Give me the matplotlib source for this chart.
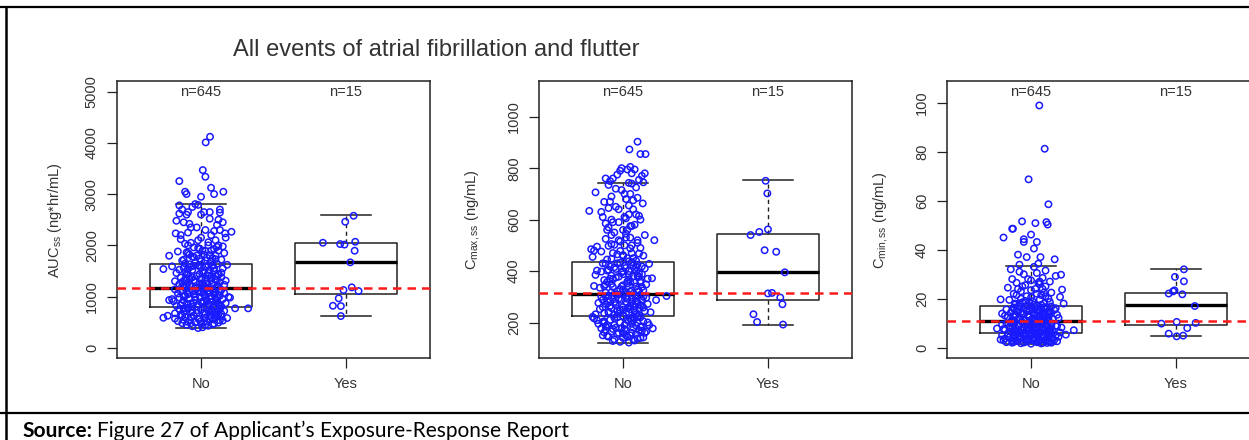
import matplotlib
matplotlib.use("Agg")
import matplotlib.pyplot as plt
from matplotlib.lines import Line2D

plt.rcParams['font.family'] = ['Liberation Sans', 'DejaVu Sans']
plt.rcParams['mathtext.fontset'] = 'custom'
plt.rcParams['mathtext.rm'] = 'Liberation Sans'
plt.rcParams['mathtext.it'] = 'Liberation Sans:italic'
plt.rcParams['mathtext.bf'] = 'Liberation Sans:bold'

W, H = 1249, 440

groups = ['No', 'Yes']
counts = ['n=645', 'n=15']
title = 'All events of atrial fibrillation and flutter'

# ---- AUCss ----
auc_no_y = [385, 400, 420, 430, 450, 460, 470, 480, 490, 500, 510, 520, 530, 540, 550, 560, 570, 580, 586, 590,
            600, 610, 625, 630, 640, 650, 660, 672, 680, 690, 700, 710, 720, 730, 740, 750, 760, 770, 770, 780, 790,
            800, 810, 820, 830, 840, 850, 860, 870, 880, 890, 900, 910, 920, 932, 940, 950, 960, 970, 980, 990,
            1000, 1010, 1020, 1030, 1040, 1050, 1060, 1070, 1080, 1090, 1100, 1110, 1120, 1130, 1140, 1150, 1155, 1100, 950, 980,
            1170, 1180, 1190, 1200, 1210, 1220, 1230, 1240, 1250, 1260, 1270, 1280, 1290, 1300, 1310, 1320, 1330, 1340, 1350, 1360,
            1370, 1380, 1400, 1410, 1430, 1440, 1460, 1480, 1500, 1520, 1537, 1550, 1560, 1580, 1590, 1600, 1610, 1620, 1630, 1640,
            1660, 1680, 1700, 1720, 1740, 1760, 1797, 1800, 1820, 1850, 1880, 1900, 1930, 1960, 2000, 2030, 2060, 2100, 2150, 2200,
            2234, 2234, 2265, 2300, 2350, 2400, 2450, 2520, 2600, 2650, 2700, 2750, 2806, 2949, 3002, 3047, 3002, 3047, 3125, 3255,
            3340, 3470, 4011, 4121,
            520, 560, 600, 640, 680, 720, 760, 800, 840, 880, 920, 960, 1000, 1040, 1080, 1120, 1160, 1200, 1240, 1280,
            1320, 1360, 1400, 1440, 1480, 1520, 1560, 1600, 1700, 1800, 1900, 2000, 450, 480, 700, 880, 1020, 1180, 1340, 1460,
            2780, 2700, 2650, 2620, 2790, 2650, 2640, 2600, 2500, 2450, 2480, 2420,
            1750, 1780, 1820, 1860, 1900, 1950, 2000, 2050, 2100, 2150, 2200, 2250, 2300, 2350, 1720, 1980, 2120, 2280,
            470, 505, 535, 565, 595, 625, 655, 685, 715, 745, 775, 805, 835, 865, 895, 925, 955, 985, 1015, 1045,
            1075, 1105, 1135, 1165, 1195, 1225, 1255, 1285, 1315, 1345, 1375, 1405, 1435, 1465, 1495, 1525, 1555, 1585, 1615, 1645,
            1690, 1730, 1770, 1810, 1850, 1890, 1930, 1970, 545, 655, 765, 875, 985, 1095, 1205, 1315, 1425, 1535, 610, 830]
auc_no_dx = [-0.02, 0.01, -0.06, 0.05, -0.10, 0.08, 0.00, -0.13, 0.12, -0.04, 0.04, -0.16, 0.15, -0.08, 0.09, -0.01, -0.18, 0.18, -0.26, 0.03,
             -0.11, 0.11, -0.23, -0.05, 0.06, -0.14, 0.14, -0.18, 0.02, -0.07, 0.10, -0.12, 0.16, -0.03, 0.07, -0.15, 0.13, 0.235, 0.325, -0.09, 0.04,
             -0.06, 0.09, -0.17, 0.13, -0.02, 0.05, -0.10, 0.17, -0.13, 0.00, 0.08, -0.19, 0.11, -0.22, -0.04, 0.15, -0.08, 0.03, -0.15, 0.19,
             -0.01, 0.07, -0.11, 0.12, -0.05, 0.02, -0.16, 0.16, -0.08, 0.09, -0.02, 0.05, -0.13, 0.14, -0.18, 0.01, 0.10, -0.10, -0.20, 0.20,
             -0.03, 0.06, -0.12, 0.11, -0.07, 0.02, 0.16, -0.15, 0.08, -0.01, -0.09, 0.13, 0.04, -0.18, 0.17, -0.05, 0.10, -0.11, 0.00, 0.07,
             -0.14, 0.14, -0.03, 0.05, -0.09, 0.12, -0.17, 0.02, 0.09, -0.06, -0.26, 0.15, -0.12, 0.03, -0.20, 0.08, -0.02, 0.18, -0.08, 0.11,
             -0.04, 0.07, -0.13, 0.14, -0.01, 0.04, -0.22, 0.10, -0.08, 0.16, -0.16, 0.01, 0.09, -0.05, 0.12, -0.11, 0.05, -0.02, 0.17, -0.14,
             -0.175, 0.166, 0.21, 0.03, -0.07, 0.11, -0.12, 0.06, -0.10, 0.02, 0.13, -0.06, -0.04, 0.00, -0.10, -0.11, 0.09, 0.154, 0.069, -0.15,
             0.03, 0.012, 0.032, 0.062,
             0.00, 0.06, -0.07, 0.10, -0.03, 0.05, -0.09, 0.02, 0.12, -0.05, 0.04, 0.07, -0.12, 0.09, 0.00, -0.06, 0.04, -0.10, 0.01, -0.04,
             0.07, -0.08, 0.10, -0.01, -0.11, 0.06, 0.00, -0.05, 0.03, -0.03, 0.07, -0.09, 0.03, -0.07, 0.08, 0.11, 0.03, -0.01, 0.03, 0.05,
             -0.15, -0.13, -0.09, -0.15, -0.02, 0.06, 0.13, 0.00, 0.12, 0.15, -0.17, -0.08,
             0.08, -0.06, 0.02, -0.10, 0.12, -0.02, 0.05, -0.07, 0.10, 0.00, 0.07, -0.09, 0.13, -0.03, -0.12, 0.15, -0.14, 0.09,
             0.09, -0.09, 0.13, -0.02, 0.07, -0.13, 0.03, 0.11, -0.06, 0.00, -0.11, 0.14, 0.06, -0.07, 0.02, -0.12, 0.10, -0.04, 0.13, -0.09,
             0.05, -0.14, 0.08, -0.03, 0.12, -0.08, 0.04, -0.13, 0.11, 0.00, -0.06, 0.07, -0.10, 0.14, 0.01, -0.15, 0.09, -0.07, 0.05, -0.11,
             0.00, 0.10, -0.05, 0.06, -0.09, 0.03, -0.01, 0.11, -0.12, 0.12, -0.12, 0.01, 0.11, 0.13, -0.13, -0.10, 0.12, -0.09, 0.14, -0.14]
auc_yes_y = [2578, 2461, 2051, 2025, 2015, 2070, 1895, 1668, 1180, 1107, 1127, 965, 820, 814, 619]
auc_yes_dx = [0.053, -0.005, -0.159, -0.04, -0.01, 0.064, 0.06, 0.03, 0.04, 0.087, -0.017, -0.05, -0.09, -0.035, -0.035]
# whisker low, q1, median, q3, whisker high
auc_box_no = [380, 800, 1160, 1635, 2806]
auc_box_yes = [619, 1043, 1668, 2039, 2586]
auc_ref = 1160

# ---- Cmax,ss ----
cmax_no_y = [122, 125, 130, 135, 140, 140, 145, 150, 150, 155, 160, 160, 165, 170, 170, 177, 177, 180, 180, 185,
             190, 190, 195, 195, 200, 200, 205, 209, 210, 210, 215, 216, 220, 220, 222, 225, 200, 185, 165, 150,
             135, 175, 205, 215, 190,
             230, 232, 236, 240, 244, 248, 252, 256, 260, 264, 268, 272, 276, 280, 284, 287, 289, 292, 296, 300,
             303, 304, 306, 310, 232, 240, 248, 256, 264, 272, 280, 288, 296, 304, 236, 244, 252, 260, 268, 276,
             284, 292, 300, 308, 312,
             316, 320, 325, 330, 335, 340, 345, 350, 355, 360, 365, 370, 375, 380, 385, 390, 395, 400, 405, 410,
             415, 420, 425, 430, 435, 318, 328, 338, 348, 358, 368, 378, 388, 398, 408, 418, 428, 342, 372, 402,
             322, 352, 382, 412, 432,
             440, 445, 450, 455, 460, 465, 470, 476, 480, 485, 490, 495, 500, 505, 510, 515, 520, 525, 530, 540,
             550, 560, 570, 580, 590, 600, 610, 620, 630, 634, 640, 650, 663, 669, 680, 690, 700, 706, 715, 725,
             735, 743, 745, 750, 755, 760, 770, 775, 780, 790, 795, 800, 855, 855, 873, 903,
             560, 575, 590, 605, 620, 640, 655, 670, 685, 700, 720, 740, 760, 780, 795, 805, 585, 615, 645, 675,
             145, 160, 175, 190, 205, 220, 235, 250, 265, 280, 295, 310, 325, 340, 355, 370, 385, 400, 415, 430,
             450, 470, 500, 520, 545, 575, 600, 560, 610, 170,
             128, 138, 148, 158, 168, 178, 188, 198, 208, 218, 228, 238, 248, 258, 268, 278, 288, 298, 308, 318,
             328, 338, 348, 358, 368, 378, 388, 398, 408, 418, 428, 438, 448, 458, 468, 478, 488, 498, 520, 540,
             142, 162, 182, 202, 222, 242, 262, 282, 302, 322, 342, 362, 382, 402, 422, 462, 502, 530, 155, 255]
cmax_no_dx = [0.04, -0.02, 0.08, -0.06, 0.00, 0.12, -0.10, 0.05, -0.14, 0.09, -0.03, 0.15, -0.08, 0.02, 0.11, 0.205, -0.15, -0.05, 0.07, 0.13,
              -0.11, 0.01, 0.06, -0.17, 0.10, -0.02, 0.14, -0.18, 0.03, -0.09, 0.08, -0.20, -0.04, 0.12, -0.21, 0.00, 0.17, -0.12, 0.16, 0.02,
              0.07, -0.07, -0.13, 0.05, 0.18,
              -0.06, 0.09, -0.13, 0.04, 0.15, -0.02, -0.16, 0.11, 0.00, -0.09, 0.07, 0.17, -0.05, 0.02, -0.11, 0.228, 0.13, -0.03, 0.06, -0.15,
              0.30, 0.10, -0.07, 0.01, -0.19, 0.19, 0.08, -0.08, 0.13, -0.12, 0.06, -0.01, 0.16, -0.10, 0.02, -0.04, 0.05, -0.14, 0.12, -0.17,
              0.09, 0.03, 0.14, -0.04, 0.07,
              -0.12, 0.05, 0.14, -0.02, -0.16, 0.09, 0.00, -0.08, 0.12, 0.03, -0.13, 0.17, -0.05, 0.07, -0.19, 0.11, -0.01, 0.04, -0.10, 0.15,
              -0.06, 0.01, 0.10, -0.14, 0.06, 0.02, 0.10, -0.07, 0.16, -0.11, 0.04, -0.03, 0.13, -0.15, 0.08, -0.09, 0.18, -0.20, 0.20, -0.18,
              -0.04, 0.03, -0.08, 0.02, -0.02,
              0.09, -0.11, 0.03, -0.21, 0.14, -0.04, 0.06, -0.15, -0.20, -0.22, 0.12, -0.18, 0.01, -0.08, 0.10, -0.02, 0.216, -0.12, 0.05, 0.15,
              -0.06, 0.03, -0.10, 0.08, -0.03, 0.12, -0.14, 0.04, -0.15, -0.233, 0.07, -0.05, 0.136, -0.13, 0.02, -0.08, 0.05, -0.19, -0.01, 0.09,
              -0.10, 0.04, 0.14, -0.09, 0.11, -0.07, 0.13, -0.04, 0.06, -0.02, 0.03, -0.01, 0.12, 0.155, 0.044, 0.10,
              0.00, 0.05, -0.07, 0.02, 0.09, -0.03, 0.04, -0.09, 0.10, 0.01, -0.05, 0.06, -0.12, 0.15, 0.08, 0.05, -0.12, 0.11, -0.10, 0.07,
              0.03, 0.06, 0.01, -0.06, 0.04, 0.07, -0.03, 0.00, 0.05, -0.06, 0.09, -0.05, 0.06, -0.01, 0.08, -0.09, 0.04, 0.00, 0.09, -0.04,
              0.07, -0.07, 0.06, -0.03, 0.02, 0.06, -0.08, -0.11, 0.01, -0.12,
              -0.07, 0.10, -0.11, 0.00, 0.13, -0.01, 0.09, -0.13, 0.06, -0.06, 0.11, -0.10, -0.02, 0.14, -0.05, 0.10, -0.14, 0.02, 0.12, -0.08,
              0.00, 0.13, -0.12, 0.05, -0.07, 0.11, 0.00, 0.09, -0.05, 0.13, -0.12, 0.04, -0.08, 0.00, 0.11, -0.02, 0.05, -0.10, 0.10, -0.08,
              0.14, -0.13, 0.12, -0.14, 0.10, -0.10, 0.08, -0.09, -0.12, 0.11, -0.13, 0.12, 0.10, -0.11, 0.07, 0.00, -0.06, 0.02, -0.04, 0.03]
cmax_yes_y = [751, 702, 540, 552, 562, 481, 475, 395, 313, 315, 297, 271, 232, 202, 192]
cmax_yes_dx = [-0.016, -0.004, -0.12, -0.06, 0.0, -0.023, 0.057, 0.116, 0.0, 0.028, 0.085, 0.1, -0.10, -0.075, 0.104]
cmax_box_no = [122, 224, 312, 436, 743]
cmax_box_yes = [192, 287, 395, 546, 754]
cmax_ref = 313

# ---- Cmin,ss ----
cmin_no_y = [1.6, 1.8, 2.0, 2.0, 2.2, 2.4, 2.5, 2.7, 2.8, 3.0, 3.0, 3.2, 3.3, 3.4, 3.5, 3.6, 3.8, 4.0, 4.0, 4.2,
             4.3, 4.5, 4.6, 4.8, 5.0, 5.0, 5.2, 5.3, 5.4, 5.5, 5.6, 5.8, 5.9, 6.0, 2.2, 2.6, 3.1, 3.7, 4.4, 4.9,
             5.5, 2.9, 3.9, 1.9, 2.3,
             6.1, 6.3, 6.5, 6.6, 6.8, 7.0, 7.1, 7.2, 7.3, 7.5, 7.7, 7.8, 7.9, 8.1, 8.3, 8.4, 8.6, 8.8, 8.9, 9.1,
             9.3, 9.4, 9.6, 9.8, 9.9, 10.1, 10.3, 10.4, 10.6, 10.8, 6.4, 6.9, 7.4, 7.9, 8.4, 8.9, 9.4, 9.9, 10.4, 10.9,
             6.2, 7.6, 8.2, 9.0, 10.0,
             11.0, 11.2, 11.4, 11.6, 11.8, 12.0, 12.2, 12.4, 12.6, 12.8, 13.0, 13.2, 13.4, 13.6, 13.9, 14.0, 14.2, 14.4, 14.6, 14.8,
             15.0, 15.2, 15.4, 15.6, 15.8, 16.0, 16.2, 16.4, 16.6, 16.8, 11.5, 12.5, 13.5, 14.5, 15.5, 16.5, 12.1, 13.1, 14.1, 15.1,
             16.1, 11.3, 12.9, 14.9, 16.9,
             17.2, 17.6, 18.0, 18.0, 18.5, 19.0, 19.5, 19.7, 20.0, 20.7, 21.0, 21.5, 22.0, 22.5, 23.0, 23.7, 24.0, 24.5, 25.0, 25.5,
             26.0, 26.5, 27.0, 27.5, 28.0, 28.5, 29.3, 29.8, 30.0, 30.5, 31.0, 31.5, 32.0, 33.0, 33.9, 34.3, 36.1, 37.0, 37.0, 38.0,
             40.5, 43.2, 43.2, 44.3, 45.0, 46.2, 48.6, 48.6, 50.3, 50.9, 51.3, 51.6, 58.6, 68.8, 81.3, 99.0,
             2.5, 3.5, 4.5, 5.5, 6.5, 7.5, 8.5, 9.5, 10.5, 11.5, 12.5, 13.5, 14.5, 15.5, 16.5, 17.5, 18.5, 20.0, 22.0, 24.0,
             3.0, 5.0, 7.0, 9.0, 11.0, 13.0, 15.0, 4.0, 6.0, 8.0,
             1.7, 2.1, 2.6, 3.1, 3.6, 4.1, 4.6, 5.1, 5.6, 6.1, 6.6, 7.1, 7.6, 8.1, 8.6, 9.1, 9.6, 10.1, 10.6, 11.1,
             11.6, 12.1, 12.6, 13.1, 13.6, 14.1, 14.6, 15.1, 15.6, 16.1, 16.6, 17.1, 17.6, 18.1, 18.6, 19.1, 19.6, 20.5, 21.5, 22.5,
             23.5, 25.0, 26.5, 28.0, 2.0, 3.0, 4.0, 5.0, 6.0, 7.0, 8.0, 9.0, 10.0, 12.0, 14.0, 16.0, 18.0, 21.0, 24.0, 27.0]
cmin_no_dx = [0.00, -0.07, 0.08, -0.13, 0.04, 0.13, -0.03, -0.10, 0.10, -0.19, 0.01, 0.06, -0.21, -0.05, 0.15, -0.12, 0.02, 0.09, -0.08, -0.15,
              0.12, -0.01, 0.05, -0.11, 0.17, -0.20, 0.07, 0.24, -0.04, 0.14, -0.16, 0.03, -0.09, 0.11, -0.17, 0.18, 0.16, -0.18, 0.19, 0.00,
              -0.06, 0.02, -0.02, 0.11, -0.12,
              -0.07, 0.06, -0.14, 0.15, 0.01, -0.03, 0.295, 0.10, -0.18, 0.04, -0.10, -0.235, 0.13, -0.05, 0.08, -0.15, 0.00, 0.17, -0.08, 0.05,
              -0.12, 0.11, -0.02, 0.14, -0.17, 0.03, -0.06, 0.09, -0.11, 0.12, 0.02, -0.11, 0.12, 0.07, -0.02, 0.18, -0.20, 0.01, -0.14, 0.06,
              0.20, -0.19, 0.21, -0.09, 0.08,
              -0.04, 0.09, -0.13, 0.15, 0.01, -0.08, 0.06, -0.16, 0.12, -0.02, 0.04, -0.11, 0.18, -0.06, -0.20, 0.08, -0.14, 0.02, 0.13, -0.09,
              0.05, -0.03, 0.16, -0.17, 0.10, -0.05, 0.07, -0.12, 0.00, 0.14, 0.03, -0.01, 0.10, -0.07, 0.01, 0.09, 0.19, -0.18, 0.11, -0.13,
              0.17, -0.10, 0.07, -0.01, -0.08,
              0.04, -0.11, 0.225, 0.09, -0.06, 0.01, -0.15, -0.21, 0.12, 0.20, -0.03, 0.07, -0.12, 0.14, -0.07, 0.214, 0.03, -0.16, 0.10, -0.04,
              0.06, -0.10, 0.13, 0.00, -0.13, 0.08, 0.17, 0.207, -0.05, 0.04, -0.08, 0.10, -0.14, 0.02, -0.08, 0.05, 0.163, -0.03, 0.065, -0.09,
              0.02, -0.05, 0.04, -0.05, -0.19, 0.00, -0.13, -0.125, 0.115, 0.03, 0.106, -0.062, 0.12, -0.017, 0.094, 0.057,
              0.05, -0.03, 0.08, 0.00, 0.06, -0.07, 0.04, -0.01, 0.05, -0.05, 0.08, -0.02, 0.06, -0.08, 0.03, 0.07, -0.01, -0.07, 0.04, -0.09,
              0.10, -0.12, 0.12, 0.11, 0.11, -0.12, 0.12, 0.03, -0.04, -0.01,
              0.07, -0.05, 0.12, -0.10, 0.02, 0.14, -0.07, 0.09, 0.01, -0.12, 0.11, 0.04, -0.03, 0.13, -0.09, 0.00, 0.08, -0.13, 0.02, 0.12,
              -0.08, 0.05, -0.12, 0.09, 0.02, -0.05, 0.12, -0.10, 0.04, -0.12, 0.11, -0.03, 0.02, -0.08, 0.13, -0.04, 0.06, 0.00, -0.10, 0.09,
              0.00, -0.06, 0.05, -0.02, 0.14, -0.13, -0.11, 0.13, 0.14, 0.13, -0.13, 0.14, -0.14, 0.12, 0.13, -0.12, -0.11, 0.10, 0.08, 0.06]
cmin_yes_y = [32.0, 28.9, 27.1, 22.1, 23.0, 23.4, 21.8, 17.0, 9.8, 10.5, 10.1, 8.0, 5.7, 4.6, 4.9]
cmin_yes_dx = [0.055, -0.007, 0.055, -0.05, -0.02, -0.01, 0.044, 0.13, -0.10, 0.005, 0.136, 0.078, -0.05, 0.005, 0.05]
cmin_box_no = [1.6, 6.0, 10.9, 16.9, 33.4]
cmin_box_yes = [4.6, 9.1, 17.3, 22.5, 32.1]
cmin_ref = 10.9

FRAME = '#222222'
TXT = '#333333'
PT_COLOR = '#1a1aff'


def stats(b):
    return dict(whislo=b[0], q1=b[1], med=b[2], q3=b[3], whishi=b[4], fliers=[])


def panel(ax, no_y, no_dx, yes_y, yes_dx, box_no, box_yes, ref, ylim, yticks):
    ax.bxp([stats(box_no), stats(box_yes)], positions=[1, 2], widths=0.7, capwidths=0.35,
           showfliers=False,
           boxprops=dict(color=FRAME, lw=1.1),
           whiskerprops=dict(color=FRAME, lw=1.0, linestyle=(0, (3, 2.5))),
           capprops=dict(color=FRAME, lw=1.1),
           medianprops=dict(color='black', lw=2.4), zorder=2)
    ax.scatter([1 + d for d in no_dx], no_y, s=21, facecolors='none',
               edgecolors=PT_COLOR, linewidths=1.1, zorder=3)
    ax.scatter([2 + d for d in yes_dx], yes_y, s=21, facecolors='none',
               edgecolors=PT_COLOR, linewidths=1.1, zorder=3)
    ax.axhline(ref, color='#ff1a1a', lw=1.8, dashes=(3.4, 2.4), zorder=4)
    ax.set_xlim(0.42, 2.58)
    ax.set_ylim(*ylim)
    ax.set_yticks(yticks)
    ax.set_xticks([1, 2])
    ax.set_xticklabels(groups)
    for sp in ax.spines.values():
        sp.set_color(FRAME)
        sp.set_linewidth(1.1)
    ax.tick_params(direction='out', length=7, width=0.9, color=FRAME, labelcolor=TXT, labelsize=10.5)
    ax.tick_params(axis='x', pad=7)
    ax.tick_params(axis='y', labelrotation=90, pad=6)
    for lbl in ax.get_yticklabels():
        lbl.set_va('center')
    for i, c in enumerate(counts):
        ax.text(i + 1, 0.961, c, transform=ax.get_xaxis_transform(), ha='center', va='center',
                fontsize=10.5, color=TXT)


fig = plt.figure(figsize=(W / 100, H / 100), dpi=100)
bottom, height = 1 - 358 / H, 277 / H
ax1 = fig.add_axes([117 / W, bottom, 313 / W, height])
ax2 = fig.add_axes([539 / W, bottom, 313 / W, height])
ax3 = fig.add_axes([947 / W, bottom, 313 / W, height])

panel(ax1, auc_no_y, auc_no_dx, auc_yes_y, auc_yes_dx, auc_box_no, auc_box_yes, auc_ref,
      (-200, 5210), [0, 1000, 2000, 3000, 4000, 5000])
panel(ax2, cmax_no_y, cmax_no_dx, cmax_yes_y, cmax_yes_dx, cmax_box_no, cmax_box_yes, cmax_ref,
      (62, 1139), [200, 400, 600, 800, 1000])
panel(ax3, cmin_no_y, cmin_no_dx, cmin_yes_y, cmin_yes_dx, cmin_box_no, cmin_box_yes, cmin_ref,
      (-4.25, 109), [0, 20, 40, 60, 80, 100])

ylabels = [r'AUC$_{\mathrm{ss}}$ (ng*hr/mL)', r'C$_{\mathrm{max,ss}}$ (ng/mL)', r'C$_{\mathrm{min,ss}}$ (ng/mL)']
for x, lab in zip([55, 472, 880], ylabels):
    fig.text(x / W, 1 - 220 / H, lab, rotation=90, ha='center', va='center', fontsize=10.5, color=TXT)

fig.text(436 / W, 1 - 50 / H, title, ha='center', va='center', fontsize=17, color=TXT)

# document frame lines
fig.add_artist(Line2D([0, 1], [1 - 7 / H, 1 - 7 / H], transform=fig.transFigure, color='black', lw=1.6))
fig.add_artist(Line2D([6 / W, 6 / W], [0, 1 - 7 / H], transform=fig.transFigure, color='black', lw=1.8))
fig.add_artist(Line2D([0, 1], [1 - 413 / H, 1 - 413 / H], transform=fig.transFigure, color='black', lw=1.6))

fig.text(22 / W, 1 - 437 / H, 'Source:', fontsize=15, fontweight='bold', family=['Lato', 'DejaVu Sans'], va='baseline')
fig.text(97 / W, 1 - 437 / H, 'Figure 27 of Applicant\u2019s Exposure-Response Report', fontsize=15,
         family=['Lato', 'DejaVu Sans'], va='baseline')

fig.savefig('out.png', dpi=100)
